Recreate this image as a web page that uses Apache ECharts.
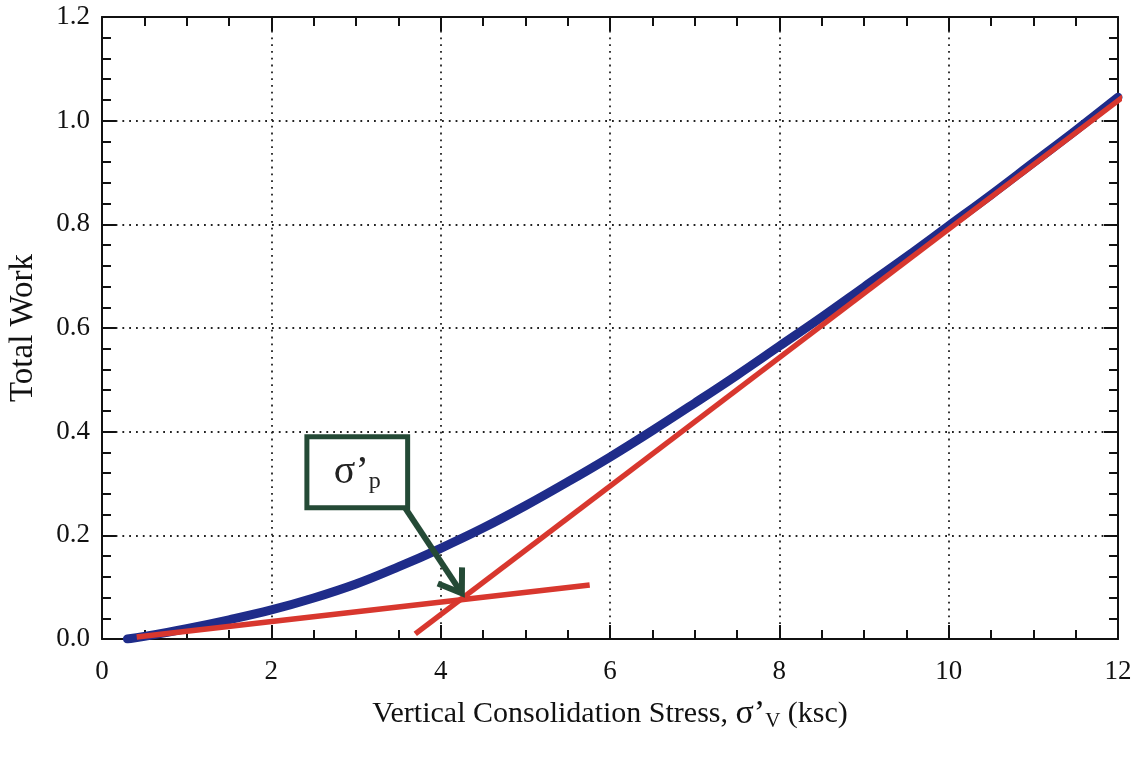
<!DOCTYPE html>
<html>
<head>
<meta charset="utf-8">
<script src="https://cdn.jsdelivr.net/npm/echarts@6/dist/echarts.min.js"></script>
<style>
html,body{margin:0;padding:0;background:#fff;}
#chart{width:1144px;height:759px;}
</style>
</head>
<body>
<div id="chart"></div>
<script>
// ---- data ----
const stressX = [0.3, 0.5, 1.0, 1.5, 2.0, 2.5, 3.0, 3.5, 4.0, 4.5, 5.0, 5.5, 6.0, 6.5, 7.0, 7.5, 8.0, 8.5, 9.0, 9.5, 10.0, 10.5, 11.0, 11.5, 12.0];
const totalWork = [0.0, 0.005, 0.020, 0.037, 0.056, 0.079, 0.106, 0.139, 0.175, 0.214, 0.257, 0.303, 0.351, 0.402, 0.455, 0.509, 0.565, 0.621, 0.679, 0.737, 0.797, 0.857, 0.919, 0.981, 1.045];
const lowFitX = [0.41, 5.76];
const lowFitY = [0.004, 0.104];
const highFitX = [3.70, 12.06];
const highFitY = [0.010, 1.046];
const xTicks = [0, 2, 4, 6, 8, 10, 12];
const yTicks = [0.0, 0.2, 0.4, 0.6, 0.8, 1.0, 1.2];
const annoBoxX = [2.42, 3.61];
const annoBoxY = [0.253, 0.390];
const arrowX = [3.58, 4.25];
const arrowY = [0.253, 0.088];
const annoLabel = "σ’";
const annoSub = "p";

const FONT = "Liberation Serif";
const AXIS_COLOR = "#111";
const BLUE = "#1f2c8a";
const RED = "#d8372e";
const GREEN = "#244a36";

const chart = echarts.init(document.getElementById('chart'), null, {renderer: 'canvas'});

function pairs(xs, ys) { return xs.map((x, i) => [x, ys[i]]); }

const gridLine = {show: true, lineStyle: {color: '#222', width: 1.8, type: [1.8, 5]}};

const commonX = {
  type: 'value', min: xTicks[0], max: xTicks[xTicks.length - 1], interval: 2,
  axisLine: {show: true, onZero: false, lineStyle: {color: AXIS_COLOR, width: 2}},
  axisTick: {show: true, inside: true, length: 14, lineStyle: {color: AXIS_COLOR, width: 2}},
  minorTick: {show: true, splitNumber: 4, length: 9, lineStyle: {color: AXIS_COLOR, width: 2}},
};
const commonY = {
  type: 'value', min: yTicks[0], max: yTicks[yTicks.length - 1], interval: 0.2,
  axisLine: {show: true, onZero: false, lineStyle: {color: AXIS_COLOR, width: 2}},
  axisTick: {show: true, inside: true, length: 14, lineStyle: {color: AXIS_COLOR, width: 2}},
  minorTick: {show: true, splitNumber: 5, length: 9, lineStyle: {color: AXIS_COLOR, width: 2}},
};

const option = {
  backgroundColor: '#fff',
  animation: false,
  grid: {left: 102, right: 26, top: 17, bottom: 120, containLabel: false, outerBoundsMode: 'none'},
  xAxis: [
    Object.assign({}, commonX, {
      position: 'bottom',
      splitLine: gridLine,
      axisLabel: {show: true, margin: 19, fontFamily: FONT, fontSize: 27, color: '#111',
        formatter: v => String(v)},
      name: 'Vertical Consolidation Stress, {s|σ’}{sub|V} (ksc)',
      nameLocation: 'middle', nameGap: 58,
      nameTextStyle: {fontFamily: FONT, fontSize: 30, color: '#111',
        rich: {
          s: {fontFamily: FONT, fontSize: 34, color: '#111'},
          sub: {fontFamily: FONT, fontSize: 21, color: '#111', padding: [14, 0, 0, 0]}
        }}
    }),
    Object.assign({}, commonX, {
      position: 'top', splitLine: {show: false}, axisLabel: {show: false}
    })
  ],
  yAxis: [
    Object.assign({}, commonY, {
      position: 'left',
      splitLine: gridLine,
      axisLabel: {show: true, margin: 12, fontFamily: FONT, fontSize: 27, color: '#111',
        formatter: v => v.toFixed(1)},
      name: 'Total Work', nameLocation: 'middle', nameGap: 62, nameRotate: 90,
      nameTextStyle: {fontFamily: FONT, fontSize: 33, color: '#111'}
    }),
    Object.assign({}, commonY, {
      position: 'right', splitLine: {show: false}, axisLabel: {show: false}
    })
  ],
  series: [
    {
      type: 'line', name: 'Total Work', data: pairs(stressX, totalWork),
      smooth: 0.4, showSymbol: false, symbol: 'none',
      lineStyle: {color: BLUE, width: 9, cap: 'round', join: 'round'}, z: 3
    },
    {
      type: 'line', name: 'Low fit', data: pairs(lowFitX, lowFitY),
      showSymbol: false, symbol: 'none',
      lineStyle: {color: RED, width: 5.5, cap: 'butt'}, z: 4
    },
    {
      type: 'line', name: 'High fit', data: pairs(highFitX, highFitY), clip: false,
      showSymbol: false, symbol: 'none',
      lineStyle: {color: RED, width: 5.5, cap: 'butt'}, z: 4
    }
  ]
};
chart.setOption(option);

function drawAnnotation() {
  const p1 = chart.convertToPixel({xAxisIndex: 0, yAxisIndex: 0}, [annoBoxX[0], annoBoxY[1]]);
  const p2 = chart.convertToPixel({xAxisIndex: 0, yAxisIndex: 0}, [annoBoxX[1], annoBoxY[0]]);
  const s = chart.convertToPixel({xAxisIndex: 0, yAxisIndex: 0}, [arrowX[0], arrowY[0]]);
  const t = chart.convertToPixel({xAxisIndex: 0, yAxisIndex: 0}, [arrowX[1], arrowY[1]]);
  const dx = t[0] - s[0], dy = t[1] - s[1];
  const len = Math.hypot(dx, dy);
  const ux = dx / len, uy = dy / len;
  const L = 26, th = 34 * Math.PI / 180;
  function rot(a) {
    const c = Math.cos(a), si = Math.sin(a);
    return [ux * c - uy * si, ux * si + uy * c];
  }
  const ra = rot(th), rb = rot(-th);
  const armA = [t[0] - L * ra[0], t[1] - L * ra[1]];
  const armB = [t[0] - L * rb[0], t[1] - L * rb[1]];
  chart.setOption({
    graphic: [
      {type: 'line', z: 10, shape: {x1: s[0], y1: s[1], x2: t[0] - ux * 3, y2: t[1] - uy * 3},
        style: {stroke: GREEN, lineWidth: 6}},
      {type: 'polyline', z: 10, shape: {points: [armA, t, armB]},
        style: {stroke: GREEN, lineWidth: 6, fill: null, lineJoin: 'miter'}},
      {type: 'rect', z: 11, shape: {x: p1[0], y: p1[1], width: p2[0] - p1[0], height: p2[1] - p1[1]},
        style: {stroke: GREEN, lineWidth: 5, fill: '#fff'}},
      {type: 'text', z: 12, x: (p1[0] + p2[0]) / 2, y: (p1[1] + p2[1]) / 2,
        style: {text: '{a|' + annoLabel + '}{b|' + annoSub + '}', align: 'center', verticalAlign: 'middle',
          rich: {
            a: {fontFamily: FONT, fontSize: 40, fill: '#222'},
            b: {fontFamily: FONT, fontSize: 24, fill: '#222', padding: [18, 0, 0, 0]}
          }}}
    ]
  });
}
drawAnnotation();
</script>
</body>
</html>
